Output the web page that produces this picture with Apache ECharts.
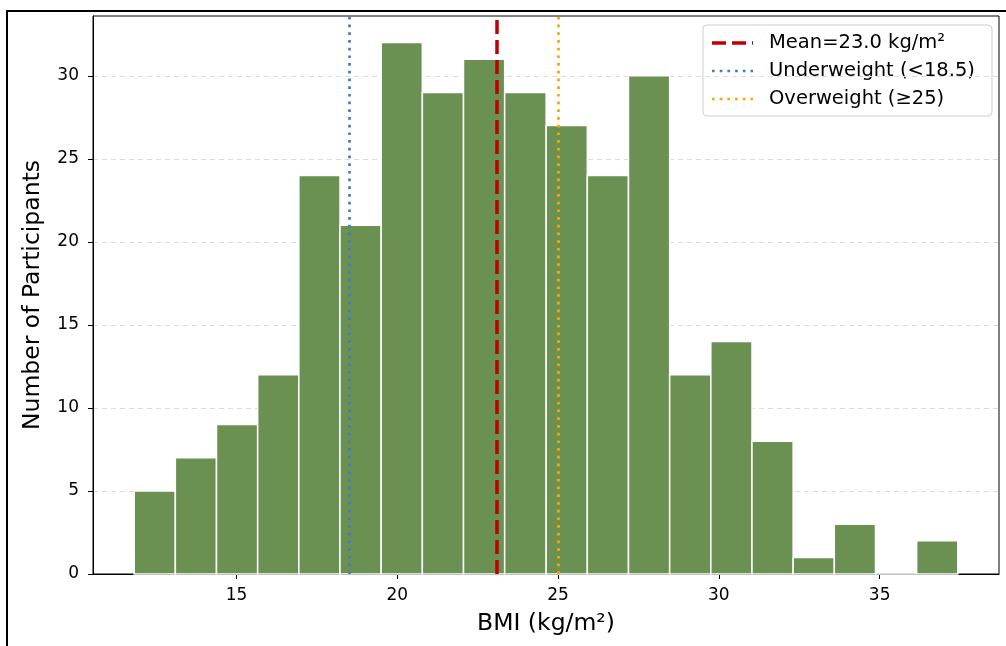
<!DOCTYPE html>
<html>
<head>
<meta charset="utf-8">
<script src="https://cdn.jsdelivr.net/npm/echarts@6/dist/echarts.min.js"></script>
<style>
html,body{margin:0;padding:0;background:#fff;}
#chart{width:1006px;height:646px;}
</style>
</head>
<body>
<div id="chart"></div>
<script>
// Histogram bin edges (BMI, kg/m²) and counts per bin
const binEdges = [11.82, 13.10, 14.38, 15.66, 16.94, 18.22, 19.50, 20.78, 22.06, 23.34, 24.63,
                  25.91, 27.19, 28.47, 29.75, 31.03, 32.31, 33.59, 34.87, 36.15, 37.43];
const counts = [5, 7, 9, 12, 24, 21, 32, 29, 31, 29, 27, 24, 30, 12, 14, 8, 1, 3, 0, 2];
const xTicks = [15, 20, 25, 30, 35];
const yTicks = [0, 5, 10, 15, 20, 25, 30];
const meanBMI = 23.08;
const underweightCut = 18.5;
const overweightCut = 25;
const legendLabels = ['Mean=23.0 kg/m²', 'Underweight (<18.5)', 'Overweight (≥25)'];

const histData = counts.map((c, i) => [binEdges[i], binEdges[i + 1], c]);

const chart = echarts.init(document.getElementById('chart'));
const font = 'DejaVu Sans';
const dashMean = [14, 6];
const dotPattern = [2.7, 5];
const option = {
  backgroundColor: '#fff',
  animation: false,
  grid: { left: 93, right: 7, top: 16, bottom: 72, show: true, borderColor: '#000', borderWidth: 1, backgroundColor: 'transparent' },
  xAxis: {
    type: 'value', min: 10.54, max: 38.71,
    name: 'BMI (kg/m²)', nameLocation: 'middle', nameGap: 38,
    nameTextStyle: { fontFamily: font, fontSize: 23.5, color: '#000' },
    axisLine: { show: true, lineStyle: { color: '#000', width: 1 } },
    axisTick: { show: true, customValues: xTicks, length: 5, lineStyle: { color: '#000' } },
    axisLabel: { customValues: xTicks, fontFamily: font, fontSize: 17, color: '#000', margin: 13 },
    splitLine: { show: false }
  },
  yAxis: {
    type: 'value', min: 0, max: 33.6,
    name: 'Number of Participants', nameLocation: 'middle', nameGap: 48,
    nameTextStyle: { fontFamily: font, fontSize: 23.5, color: '#000' },
    axisLine: { show: true, lineStyle: { color: '#000', width: 1 } },
    axisTick: { show: true, customValues: yTicks, length: 5, lineStyle: { color: '#000' } },
    axisLabel: { customValues: yTicks, fontFamily: font, fontSize: 17, color: '#000', margin: 14 },
    splitLine: { show: true, customValues: yTicks, lineStyle: { color: '#dcdcdc', type: [5, 4], width: 1 } }
  },
  series: [{
    type: 'custom',
    data: histData,
    encode: { x: [0, 1], y: 2 },
    renderItem: function (params, api) {
      const p0 = api.coord([api.value(0), api.value(2)]);
      const p1 = api.coord([api.value(1), 0]);
      return {
        type: 'rect',
        shape: { x: p0[0], y: p0[1], width: p1[0] - p0[0], height: p1[1] - p0[1] },
        style: { fill: '#6b9152', stroke: '#ffffff', lineWidth: 1.5 }
      };
    },
    markLine: {
      symbol: ['none', 'none'],
      silent: true,
      label: { show: false },
      z: 10,
      data: [
        { xAxis: underweightCut, lineStyle: { color: '#3b7fc4', type: dotPattern, width: 2.7 } },
        { xAxis: overweightCut, lineStyle: { color: '#ffa500', type: dotPattern, width: 2.7 } },
        { xAxis: meanBMI, lineStyle: { color: '#c00000', type: dashMean, width: 3.5 } }
      ]
    }
  }],
  graphic: [
    { type: 'rect', z: 100, silent: true,
      shape: { x: 7, y: 11, width: 1100, height: 1000 },
      style: { fill: 'none', stroke: '#000', lineWidth: 2 } },
    { type: 'group', x: 703, y: 25, z: 50, children: [
      { type: 'rect', shape: { x: 0, y: 0, width: 289, height: 91, r: 4 },
        style: { fill: 'rgba(255,255,255,0.85)', stroke: '#cccccc', lineWidth: 1 } },
      { type: 'line', shape: { x1: 9, y1: 18, x2: 50, y2: 18 }, style: { stroke: '#c00000', lineWidth: 3.5, lineDash: dashMean } },
      { type: 'line', shape: { x1: 9, y1: 46, x2: 50, y2: 46 }, style: { stroke: '#3b7fc4', lineWidth: 2.7, lineDash: dotPattern } },
      { type: 'line', shape: { x1: 9, y1: 74, x2: 50, y2: 74 }, style: { stroke: '#ffa500', lineWidth: 2.7, lineDash: dotPattern } },
      { type: 'text', x: 66, y: 18, style: { text: legendLabels[0], font: '19.5px "DejaVu Sans"', fill: '#000', textVerticalAlign: 'middle' } },
      { type: 'text', x: 66, y: 46, style: { text: legendLabels[1], font: '19.5px "DejaVu Sans"', fill: '#000', textVerticalAlign: 'middle' } },
      { type: 'text', x: 66, y: 74, style: { text: legendLabels[2], font: '19.5px "DejaVu Sans"', fill: '#000', textVerticalAlign: 'middle' } }
    ]}
  ]
};
chart.setOption(option);
</script>
</body>
</html>
